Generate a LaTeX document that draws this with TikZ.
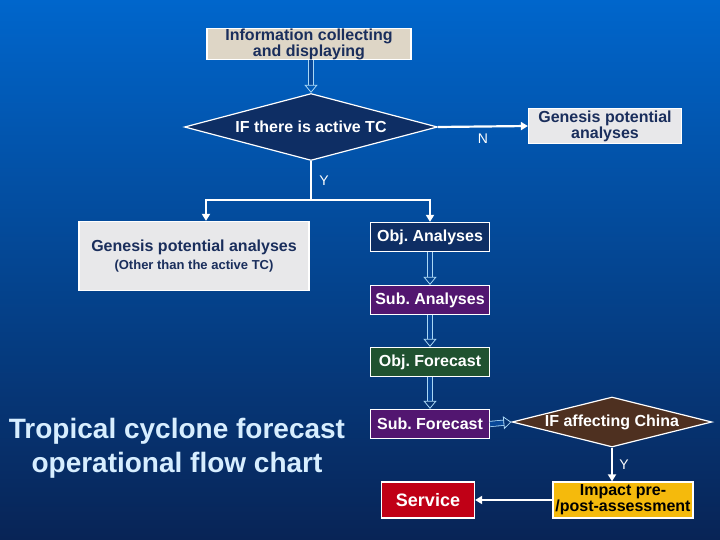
\documentclass[tikz,border=0pt]{standalone}
\usepackage{fontspec}
\setmainfont{Liberation Sans}
\usetikzlibrary{shapes.geometric,arrows.meta}
\frenchspacing

\definecolor{bgtop}{RGB}{0,102,204}
\definecolor{bgmid}{RGB}{8,72,152}
\definecolor{bgbot}{RGB}{8,36,86}
\definecolor{navyb}{RGB}{14,46,100}
\definecolor{purpb}{RGB}{82,22,112}
\definecolor{greenb}{RGB}{32,82,48}
\definecolor{brownb}{RGB}{78,48,32}
\definecolor{amber}{RGB}{245,186,12}
\definecolor{crimson}{RGB}{192,0,22}
\definecolor{beige}{RGB}{222,214,198}
\definecolor{paper}{RGB}{232,232,234}
\definecolor{inknavy}{RGB}{26,46,92}
\definecolor{hollowc}{RGB}{170,215,245}
\definecolor{titlec}{RGB}{215,238,255}

\tikzset{
  procbox/.style={draw=white, line width=1.2pt, inner sep=0pt, align=center,
    text=white, font=\bfseries\fontsize{16}{13}\selectfont},
  paperbox/.style={procbox, text=inknavy},
  decision/.style={diamond, aspect=4, draw=white, line width=1.2pt, inner sep=0pt,
    text=white, font=\bfseries\fontsize{16}{13}\selectfont},
  conn/.style={draw=white, line width=2.2pt, -{Triangle[length=7pt,width=8pt]}},
  hollow/.style={draw=hollowc, line width=0.8pt, double=bgmid, double distance=4.5pt,
    -{Triangle[open,length=8pt,width=13pt]}},
  lbl/.style={text=white, font=\fontsize{14}{14}\selectfont}
}

\begin{document}
\begin{tikzpicture}[x=1pt,y=-1pt]
  \useasboundingbox (0,0) rectangle (720,540);
  \fill [top color=bgtop, middle color=bgmid, bottom color=bgbot] (0,0) rectangle (720,540);

  % top part
  \node [paperbox, fill=beige, minimum width=204pt, minimum height=28pt] (info) at (309,44)
    {Information collecting\\and displaying};
  \node [decision, fill=navyb, minimum width=253pt, minimum height=67pt] (ifTC) at (311,127)
    {IF there is active TC};
  \node [paperbox, fill=paper, minimum width=153pt, minimum height=35pt] (genR) at (605,126)
    {Genesis potential\\analyses};
  \node [paperbox, fill=paper, minimum width=230pt, minimum height=69pt] (genL) at (194,256)
    {{\fontsize{16}{20}\selectfont Genesis potential analyses}\\[5pt]
     {\fontsize{13}{15}\selectfont (Other than the active TC)}};

  % forecast chain
  \node [procbox, fill=navyb, minimum width=119pt, minimum height=29pt] (objA) at (430,237) {Obj. Analyses};
  \node [procbox, fill=purpb, minimum width=119pt, minimum height=29pt] (subA) at (430,300) {Sub. Analyses};
  \node [procbox, fill=greenb, minimum width=119pt, minimum height=29pt] (objF) at (430,362) {Obj. Forecast};
  \node [procbox, fill=purpb, minimum width=119pt, minimum height=29pt] (subF) at (430,424) {Sub. Forecast};

  \node [decision, fill=brownb, minimum width=200pt, minimum height=50pt] (ifCN) at (612,422)
    {IF affecting China};
  \node [procbox, fill=amber, text=black, minimum width=140pt, minimum height=36pt] (impact) at (623,500)
    {Impact pre-\\/post-assessment};
  \node [procbox, fill=crimson, minimum width=93pt, minimum height=36pt,
    font=\bfseries\fontsize{18}{18}\selectfont] (service) at (428,500) {Service};

  \node [text=titlec, align=center, font=\bfseries\fontsize{28}{34}\selectfont] (title) at (177,448)
    {Tropical cyclone forecast\\operational flow chart};

  % connectors
  \draw [hollow] (info.south -| ifTC.north) -- (ifTC.north);
  \draw [conn] (ifTC.east) -- node [lbl, below=3pt] {N} (genR.west);

  \path (ifTC.south) ++(0,39) coordinate (split);
  \draw [draw=white, line width=2.2pt] (ifTC.south) -- node [lbl, right=4pt] {Y} (split);
  \draw [conn] (split) -| ([xshift=12pt]genL.north);
  \draw [conn] (split) -| (objA.north);

  \draw [hollow] (objA) -- (subA);
  \draw [hollow] (subA) -- (objF);
  \draw [hollow] (objF) -- (subF);
  \draw [hollow] (subF.east) -- (ifCN.west);

  \draw [conn] (ifCN.south) -- node [lbl, right=3pt] {Y} (ifCN.south |- impact.north);
  \draw [conn] (impact.west) -- (service.east);
\end{tikzpicture}
\end{document}
